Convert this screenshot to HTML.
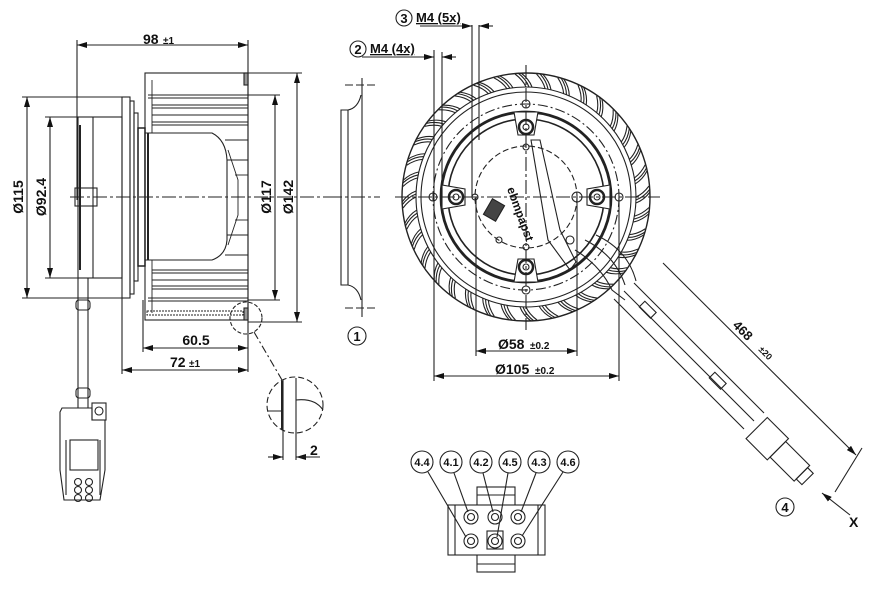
<!DOCTYPE html>
<html><head><meta charset="utf-8"><style>
html,body{margin:0;padding:0;background:#fff;width:880px;height:592px;overflow:hidden}
svg{display:block}
text{font-family:"Liberation Sans",sans-serif;font-weight:bold;fill:#111}
</style></head><body>
<svg width="880" height="592" viewBox="0 0 880 592" xmlns="http://www.w3.org/2000/svg">
<defs>
<marker id="a" markerWidth="10" markerHeight="6" refX="10" refY="3" orient="auto-start-reverse" markerUnits="userSpaceOnUse"><path d="M0,0 L10,3 L0,6z" fill="#111"/></marker>
<g id="bl" fill="none" stroke="#222" stroke-width="1.1">
<path d="M110,0 Q117,-3 123,-11"/><path d="M110,3 Q118,0 124,-8"/><path d="M110,6 Q118,3 124,-5"/>
</g>
</defs>
<g stroke="#222" stroke-width="1.1" fill="none">
<!-- LEFT VIEW -->
<line x1="77" y1="45" x2="248" y2="45" marker-start="url(#a)" marker-end="url(#a)"/>
<line x1="77" y1="40" x2="77" y2="200"/>
<line x1="248" y1="40" x2="248" y2="372"/>
<rect x="145" y="73" width="103" height="247"/>
<rect x="244" y="73" width="4" height="12" fill="#999"/>
<rect x="244" y="308" width="4" height="12" fill="#999"/>
<g stroke-width="0.9">
<line x1="148" y1="95" x2="248" y2="95"/><line x1="148" y1="98" x2="248" y2="98"/>
<line x1="152" y1="105" x2="248" y2="105"/><line x1="152" y1="108" x2="248" y2="108"/>
<line x1="152" y1="115" x2="248" y2="115"/>
<line x1="152" y1="122" x2="248" y2="122"/><line x1="152" y1="125" x2="248" y2="125"/>
<line x1="152" y1="270" x2="248" y2="270"/><line x1="152" y1="273" x2="248" y2="273"/>
<line x1="152" y1="280" x2="248" y2="280"/>
<line x1="152" y1="286" x2="248" y2="286"/><line x1="152" y1="289" x2="248" y2="289"/>
<line x1="148" y1="298" x2="248" y2="298"/><line x1="148" y1="301" x2="248" y2="301"/>
<rect x="147" y="311" width="96" height="4" stroke-dasharray="2 1"/>
<line x1="225" y1="140" x2="248" y2="140"/><line x1="225" y1="160" x2="248" y2="160"/>
<line x1="225" y1="235" x2="248" y2="235"/><line x1="225" y1="255" x2="248" y2="255"/>
<line x1="235" y1="175" x2="248" y2="175"/><line x1="235" y1="220" x2="248" y2="220"/>
<path d="M228,150 L238,180 L238,215 L228,245"/>
<line x1="152" y1="80" x2="152" y2="313"/>
</g>
<path d="M145,133 L212,133 Q226,140 227,160 L227,240 Q226,255 212,260 L145,260z" fill="#fff"/>
<line x1="148" y1="133" x2="148" y2="260" stroke-width="2"/>
<rect x="122" y="97" width="8" height="201"/>
<rect x="130" y="101" width="4" height="193"/>
<rect x="134" y="113" width="4" height="168"/>
<rect x="138" y="128" width="7" height="138" stroke-width="1.5"/>
<rect x="78" y="117" width="44" height="161"/>
<line x1="80" y1="125" x2="80" y2="270" stroke-width="2"/><line x1="93" y1="117" x2="93" y2="278"/>
<rect x="75" y="188" width="22" height="18"/>
<line x1="27" y1="97" x2="27" y2="298" marker-start="url(#a)" marker-end="url(#a)"/>
<line x1="22" y1="97" x2="122" y2="97"/><line x1="22" y1="298" x2="122" y2="298"/>
<line x1="50" y1="117" x2="50" y2="278" marker-start="url(#a)" marker-end="url(#a)"/>
<line x1="45" y1="117" x2="78" y2="117"/><line x1="45" y1="278" x2="78" y2="278"/>
<line x1="275" y1="95" x2="275" y2="300" marker-start="url(#a)" marker-end="url(#a)"/>
<line x1="248" y1="95" x2="280" y2="95"/><line x1="248" y1="300" x2="280" y2="300"/>
<line x1="297" y1="73" x2="297" y2="322" marker-start="url(#a)" marker-end="url(#a)"/>
<line x1="248" y1="73" x2="302" y2="73"/><line x1="248" y1="322" x2="302" y2="322"/>
<line x1="70" y1="197" x2="330" y2="197" stroke-dasharray="14 3 3 3"/>
<path d="M78,278 L78,408 M88,278 L88,408"/>
<rect x="76" y="300" width="14" height="10" rx="3"/>
<rect x="76" y="388" width="14" height="10" rx="3"/>
<path d="M62,408 L92,408 L92,420 L105,420 L105,470 L100,500 L64,500 L60,470 L60,412z"/>
<rect x="92" y="403" width="14" height="17"/><circle cx="99" cy="411" r="4"/>
<rect x="70" y="440" width="28" height="30"/>
<line x1="66" y1="440" x2="66" y2="495"/><line x1="100" y1="440" x2="100" y2="495"/>
<circle cx="78" cy="482" r="3.5"/><circle cx="89" cy="482" r="3.5"/>
<circle cx="78" cy="490" r="3.5"/><circle cx="89" cy="490" r="3.5"/>
<circle cx="78" cy="498" r="3.5"/><circle cx="89" cy="498" r="3.5"/>
<line x1="143" y1="348" x2="248" y2="348" marker-start="url(#a)" marker-end="url(#a)"/>
<line x1="143" y1="300" x2="143" y2="352"/>
<line x1="122" y1="370" x2="248" y2="370" marker-start="url(#a)" marker-end="url(#a)"/>
<line x1="122" y1="298" x2="122" y2="374"/>
<circle cx="246" cy="318" r="16" stroke-dasharray="4 2"/>
<line x1="254" y1="332" x2="282" y2="380" stroke-dasharray="8 3 2 3"/>
<circle cx="295" cy="405" r="28" stroke-dasharray="6 3"/>
<line x1="283" y1="380" x2="283" y2="460"/><line x1="296" y1="378" x2="296" y2="460"/>
<line x1="282" y1="381" x2="282" y2="430" stroke-width="2"/>
<path d="M268,411 L283,411 M296,400 Q315,398 323,410"/>
<line x1="268" y1="457" x2="283" y2="457" marker-end="url(#a)"/>
<line x1="310" y1="457" x2="296" y2="457" marker-end="url(#a)"/>
<line x1="296" y1="457" x2="320" y2="457"/>
<path d="M362,78 L362,317 M341,110 L341,285 L348,285 L348,110z"/>
<path d="M348,110 Q358,108 361,95 M348,285 Q358,287 361,300"/>
<line x1="345" y1="85" x2="378" y2="85" stroke-dasharray="8 3"/>
<line x1="345" y1="308" x2="378" y2="308" stroke-dasharray="8 3"/>
<line x1="328" y1="197" x2="380" y2="197" stroke-dasharray="14 3 3 3"/>
<circle cx="357" cy="336" r="9"/>

<!-- RIGHT VIEW -->
<circle cx="526" cy="197" r="124" stroke-width="1.4"/>
<circle cx="526" cy="197" r="110"/>
<circle cx="526" cy="197" r="105"/>
<circle cx="526" cy="197" r="93" stroke-dasharray="10 3 2 3"/>
<circle cx="526" cy="197" r="85" stroke-width="2.8"/>
<circle cx="526" cy="197" r="78" stroke-width="1.6"/>
<circle cx="526" cy="197" r="51" stroke-dasharray="6 3"/>
</g>
<g transform="translate(526,197)">
<use href="#bl" transform="rotate(0)"/><use href="#bl" transform="rotate(10)"/><use href="#bl" transform="rotate(20)"/>
<use href="#bl" transform="rotate(30)"/><use href="#bl" transform="rotate(40)"/><use href="#bl" transform="rotate(50)"/>
<use href="#bl" transform="rotate(60)"/><use href="#bl" transform="rotate(70)"/><use href="#bl" transform="rotate(80)"/>
<use href="#bl" transform="rotate(90)"/><use href="#bl" transform="rotate(100)"/><use href="#bl" transform="rotate(110)"/>
<use href="#bl" transform="rotate(120)"/><use href="#bl" transform="rotate(130)"/><use href="#bl" transform="rotate(140)"/>
<use href="#bl" transform="rotate(150)"/><use href="#bl" transform="rotate(160)"/><use href="#bl" transform="rotate(170)"/>
<use href="#bl" transform="rotate(180)"/><use href="#bl" transform="rotate(190)"/><use href="#bl" transform="rotate(200)"/>
<use href="#bl" transform="rotate(210)"/><use href="#bl" transform="rotate(220)"/><use href="#bl" transform="rotate(230)"/>
<use href="#bl" transform="rotate(240)"/><use href="#bl" transform="rotate(250)"/><use href="#bl" transform="rotate(260)"/>
<use href="#bl" transform="rotate(270)"/><use href="#bl" transform="rotate(280)"/><use href="#bl" transform="rotate(290)"/>
<use href="#bl" transform="rotate(300)"/><use href="#bl" transform="rotate(310)"/><use href="#bl" transform="rotate(320)"/>
<use href="#bl" transform="rotate(330)"/><use href="#bl" transform="rotate(340)"/><use href="#bl" transform="rotate(350)"/>
</g>
<g stroke="#222" stroke-width="1.1" fill="none">
<path d="M514,112 L538,112 L534,135 L518,135z" fill="#fff"/>
<path d="M514,282 L538,282 L534,259 L518,259z" fill="#fff"/>
<path d="M442,185 L442,209 L465,205 L465,189z" fill="#fff"/>
<path d="M610,185 L610,209 L587,205 L587,189z" fill="#fff"/>
<circle cx="526" cy="127" r="7" stroke-width="2.5"/><circle cx="526" cy="127" r="3"/>
<circle cx="526" cy="267" r="7" stroke-width="2.5"/><circle cx="526" cy="267" r="3"/>
<circle cx="456" cy="197" r="7" stroke-width="2.5"/><circle cx="456" cy="197" r="3"/>
<circle cx="597" cy="197" r="7" stroke-width="2.5"/><circle cx="597" cy="197" r="3"/>
<circle cx="526" cy="104" r="4"/><circle cx="526" cy="290" r="4"/>
<circle cx="433" cy="197" r="4"/><circle cx="619" cy="197" r="4"/>
<circle cx="475" cy="197" r="3"/><circle cx="577" cy="197" r="5"/>
<circle cx="526" cy="147" r="3"/><circle cx="526" cy="247" r="3"/>
<circle cx="570" cy="240" r="4"/><circle cx="499" cy="240" r="3"/>
<path d="M531,140 L540,140 L560,230 L576,262 L570,270 L548,240z"/>
<line x1="395" y1="197" x2="660" y2="197" stroke-dasharray="14 3 3 3"/>
<line x1="526" y1="65" x2="526" y2="330" stroke-dasharray="14 3 3 3"/>
<rect x="485" y="203" width="18" height="14" fill="#444" transform="rotate(-60 494 210)"/>
<path d="M575,250 Q600,265 612,290 L625,300 M585,240 Q615,255 625,285 M596,235 Q628,250 636,281"/>
<path d="M614,299 L744,429 M634,283 L764,413 M624,291 L754,421"/>
<rect x="640" y="305" width="16" height="8" transform="rotate(45 647 309)"/>
<rect x="710" y="376" width="16" height="8" transform="rotate(45 717 380)"/>
<g transform="rotate(45 780 450)">
<rect x="748" y="436" width="30" height="30"/>
<rect x="778" y="440" width="34" height="22"/>
<rect x="812" y="443" width="8" height="16"/>
</g>
<line x1="663" y1="263" x2="856" y2="455" marker-end="url(#a)"/>
<line x1="835" y1="492" x2="862" y2="448"/>
<circle cx="785" cy="507" r="9"/>
<line x1="850" y1="515" x2="822" y2="493" marker-end="url(#a)"/>
<line x1="476" y1="351" x2="577" y2="351" marker-start="url(#a)" marker-end="url(#a)"/>
<line x1="476" y1="197" x2="476" y2="356"/><line x1="577" y1="197" x2="577" y2="356"/>
<line x1="434" y1="376" x2="619" y2="376" marker-start="url(#a)" marker-end="url(#a)"/>
<line x1="434" y1="50" x2="434" y2="381"/><line x1="619" y1="197" x2="619" y2="381"/>
<line x1="442" y1="52" x2="442" y2="197"/>
<line x1="472" y1="25" x2="472" y2="197"/><line x1="479" y1="25" x2="479" y2="140"/>
<line x1="456" y1="57" x2="442" y2="57" marker-end="url(#a)"/>
<line x1="362" y1="57" x2="434" y2="57" marker-end="url(#a)"/>
<line x1="420" y1="26" x2="472" y2="26" marker-end="url(#a)"/><line x1="493" y1="26" x2="479" y2="26" marker-end="url(#a)"/>
<circle cx="404" cy="18" r="8"/><circle cx="358" cy="49" r="8"/>

<!-- BOTTOM CONNECTOR -->
<rect x="477" y="487" width="38" height="85"/>
<rect x="448" y="505" width="97" height="50" fill="#fff"/>
<line x1="477" y1="495" x2="515" y2="495"/><line x1="477" y1="564" x2="515" y2="564"/>
<line x1="455" y1="505" x2="455" y2="555"/><line x1="538" y1="505" x2="538" y2="555"/>
<circle cx="471" cy="517" r="7"/><circle cx="471" cy="517" r="3.5"/>
<circle cx="495" cy="517" r="7"/><circle cx="495" cy="517" r="3.5"/>
<circle cx="518" cy="517" r="7"/><circle cx="518" cy="517" r="3.5"/>
<circle cx="471" cy="541" r="7"/><circle cx="471" cy="541" r="3.5"/>
<circle cx="495" cy="541" r="7"/><circle cx="495" cy="541" r="3.5"/>
<circle cx="518" cy="541" r="7"/><circle cx="518" cy="541" r="3.5"/>
<rect x="487" y="531" width="16" height="18"/>
<circle cx="422" cy="462" r="11"/><circle cx="451" cy="462" r="11"/><circle cx="481" cy="462" r="11"/>
<circle cx="510" cy="462" r="11"/><circle cx="539" cy="462" r="11"/><circle cx="568" cy="462" r="11"/>
<line x1="428" y1="472" x2="466" y2="537"/>
<line x1="454" y1="473" x2="468" y2="512"/>
<line x1="483" y1="473" x2="493" y2="512"/>
<line x1="508" y1="473" x2="497" y2="537"/>
<line x1="536" y1="473" x2="521" y2="512"/>
<line x1="563" y1="472" x2="522" y2="536"/>
</g>
<!-- TEXT -->
<text x="143" y="44" font-size="14">98</text><text x="163" y="44" font-size="10">±1</text>
<text x="23" y="197" font-size="14" transform="rotate(-90 23 197)" text-anchor="middle">Ø115</text>
<text x="46" y="197" font-size="14" transform="rotate(-90 46 197)" text-anchor="middle">Ø92.4</text>
<text x="271" y="197" font-size="14" transform="rotate(-90 271 197)" text-anchor="middle">Ø117</text>
<text x="293" y="197" font-size="14" transform="rotate(-90 293 197)" text-anchor="middle">Ø142</text>
<text x="196" y="345" font-size="14" text-anchor="middle">60.5</text>
<text x="170" y="367" font-size="14">72</text><text x="189" y="367" font-size="10">±1</text>
<text x="310" y="455" font-size="14">2</text>
<text x="357" y="341" font-size="13" text-anchor="middle" font-weight="normal">1</text>
<text x="404" y="23" font-size="13" text-anchor="middle" font-weight="normal">3</text>
<text x="416" y="22" font-size="13" text-decoration="underline">M4 (5x)</text>
<text x="358" y="54" font-size="13" text-anchor="middle" font-weight="normal">2</text>
<text x="370" y="53" font-size="13" text-decoration="underline">M4 (4x)</text>
<text x="498" y="349" font-size="14">Ø58</text><text x="530" y="349" font-size="10">±0.2</text>
<text x="495" y="374" font-size="14">Ø105</text><text x="535" y="374" font-size="10">±0.2</text>
<text x="732" y="326" font-size="13" transform="rotate(45 732 326)">468</text>
<text x="758" y="350" font-size="9" transform="rotate(45 758 350)">±20</text>
<text x="785" y="512" font-size="13" text-anchor="middle" font-weight="normal">4</text>
<text x="849" y="527" font-size="14">X</text>
<g font-size="11" text-anchor="middle">
<text x="422" y="466">4.4</text><text x="451" y="466">4.1</text><text x="481" y="466">4.2</text>
<text x="510" y="466">4.5</text><text x="539" y="466">4.3</text><text x="568" y="466">4.6</text>
</g>
<text x="520" y="170" font-size="12" transform="rotate(70 500 170)" fill="#333">ebmpapst</text>
</svg>
</body></html>
